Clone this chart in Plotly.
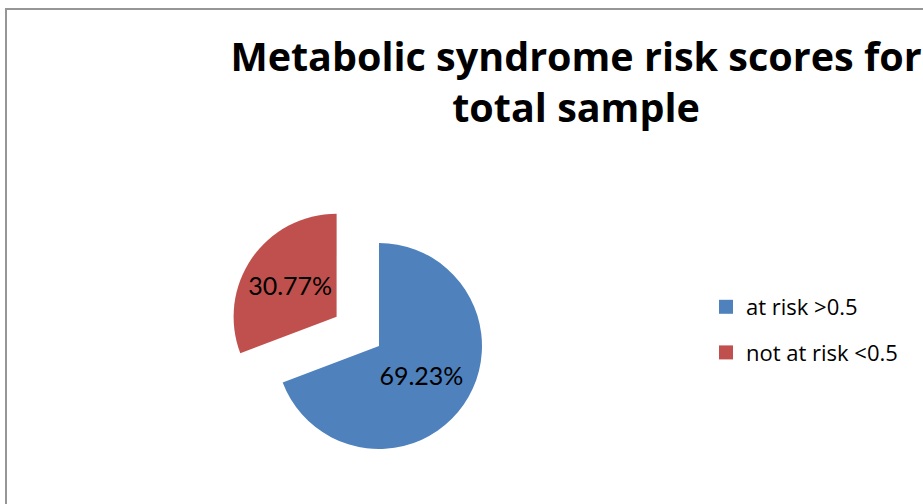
import plotly.graph_objects as go

# Risk categories and their share of the total sample (%)
labels = ["at risk >0.5", "not at risk <0.5"]
values = [69.23, 30.77]
colors = ["#4F81BD", "#C0504D"]
pulls = [0, 0.5]

title_text = "<b>Metabolic syndrome risk scores for<br>total sample</b>"
FONT = "Lato, 'Open Sans', sans-serif"
TITLE_FONT = "'Open Sans', Lato, sans-serif"

W, H = 923, 504

fig = go.Figure()

fig.add_trace(go.Pie(
    labels=labels,
    values=values,
    marker=dict(colors=colors, line=dict(width=0)),
    pull=pulls,
    sort=False,
    direction="clockwise",
    rotation=0,
    texttemplate="%{value:.2f}%",
    textposition="inside",
    insidetextorientation="horizontal",
    textfont=dict(family=FONT, size=25, color="black"),
    domain=dict(x=[0.2106, 0.6106], y=[0.00694, 0.62004]),
    showlegend=False,
    hoverinfo="label+percent",
))

# Legend entries, one group per category so the rows can be spaced apart
for i, (lab, col) in enumerate(zip(labels, colors)):
    fig.add_trace(go.Scatter(
        x=[None], y=[None], mode="markers", name=lab,
        marker=dict(symbol="square", size=14, color=col),
        legendgroup=f"g{i}", showlegend=True,
    ))

fig.update_layout(
    width=W, height=H,
    margin=dict(l=0, r=0, t=0, b=0),
    paper_bgcolor="white",
    plot_bgcolor="white",
    font=dict(family=FONT, color="black"),
    title=dict(
        text=title_text,
        x=576 / W, xanchor="center", xref="paper",
        y=1 - 71 / H, yanchor="top", yref="container",
        font=dict(family=TITLE_FONT, size=39.5, color="black"),
    ),
    xaxis=dict(visible=False),
    yaxis=dict(visible=False),
    legend=dict(
        x=706 / W, xanchor="left",
        y=1 - 286 / H, yanchor="top",
        font=dict(family=TITLE_FONT, size=22, color="black"),
        traceorder="grouped",
        tracegroupgap=14,
        bgcolor="rgba(0,0,0,0)",
        itemclick=False, itemdoubleclick=False,
    ),
    shapes=[
        dict(type="rect", xref="paper", yref="paper",
             x0=6 / W, x1=1.2, y0=-0.2, y1=1 - 9 / H,
             line=dict(color="#969696", width=2), fillcolor="rgba(0,0,0,0)",
             layer="below"),
    ],
)

fig.write_html("out.html")
